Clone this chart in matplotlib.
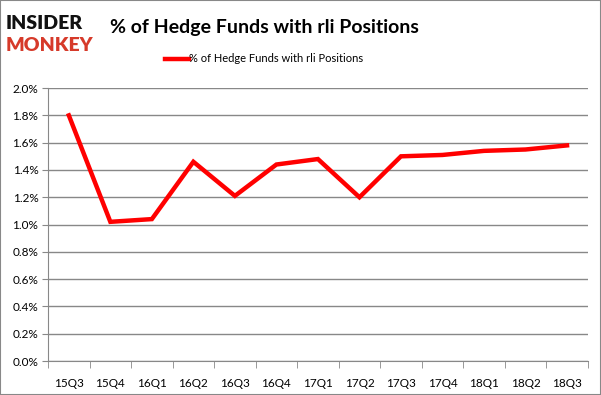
import matplotlib.pyplot as plt
from matplotlib.patches import Rectangle

quarters = ['15Q3', '15Q4', '16Q1', '16Q2', '16Q3', '16Q4', '17Q1',
            '17Q2', '17Q3', '17Q4', '18Q1', '18Q2', '18Q3']
pct_funds = [1.80, 1.02, 1.04, 1.46, 1.21, 1.44, 1.48,
             1.20, 1.50, 1.51, 1.54, 1.55, 1.58]
y_ticks = [0.0, 0.2, 0.4, 0.6, 0.8, 1.0, 1.2, 1.4, 1.6, 1.8, 2.0]

plt.rcParams['font.family'] = ['Lato', 'DejaVu Sans']

fig = plt.figure(figsize=(6.01, 3.95), dpi=100)
ax = fig.add_axes([0.08, 0.086, 0.898, 0.691])

x = list(range(len(quarters)))
ax.plot(x, pct_funds, color='#ff0000', lw=3.2,
        label='% of Hedge Funds with rli Positions', solid_joinstyle='miter')

ax.set_xlim(-0.5, len(quarters) - 0.5)
ax.set_ylim(0, 2.0)
ax.set_yticks(y_ticks)
ax.set_yticklabels(['%.1f%%' % v for v in y_ticks], fontsize=8.5)
ax.set_xticks(x)
ax.set_xticklabels(quarters, fontsize=8.5)
ax.tick_params(axis='x', length=0, pad=12)
ax.set_xticks([i - 0.5 for i in range(len(quarters) + 1)], minor=True)
ax.tick_params(axis='x', which='minor', length=5, color='#888888')
ax.tick_params(axis='y', length=4, color='#888888', pad=3)
ax.grid(axis='y', color='#888888', lw=1)
ax.set_axisbelow(True)
for s in ['top', 'right']:
    ax.spines[s].set_visible(False)
for s in ['left', 'bottom']:
    ax.spines[s].set_color('#888888')

fig.text(0.183, 0.93, '% of Hedge Funds with rli Positions', fontsize=14,
         fontweight='bold', va='center', ha='left')
ax.legend(loc='lower center', bbox_to_anchor=(0.40, 1.05), frameon=False,
          fontsize=8, handlelength=2.2, handletextpad=0)

fig.text(0.01, 0.94, 'INSIDER', fontsize=14, fontweight='heavy',
         color='#111111', va='center', ha='left')
fig.text(0.01, 0.885, 'MONKEY', fontsize=14, fontweight='heavy',
         color='#d63a2a', va='center', ha='left')

fig.patches.append(Rectangle((0, 0), 1, 1, transform=fig.transFigure,
                             fill=False, edgecolor='#888888', lw=1.5))

fig.savefig('out.png', dpi=100)
